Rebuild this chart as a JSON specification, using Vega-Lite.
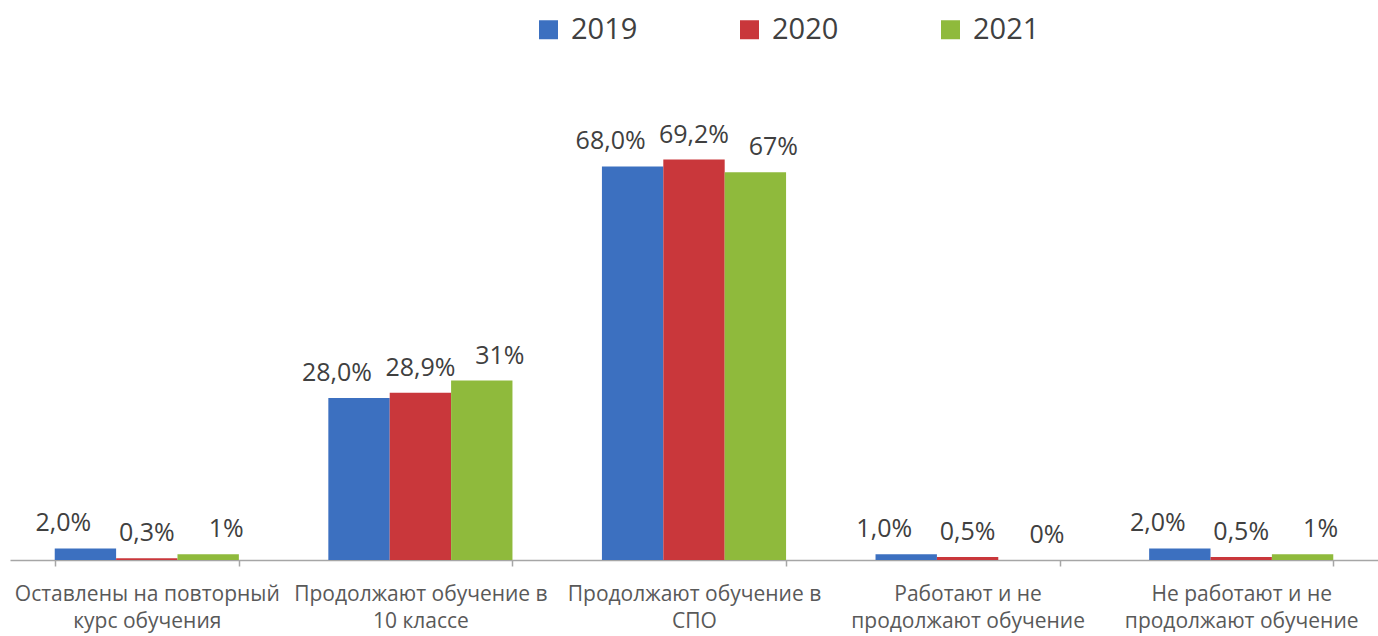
{
  "$schema": "https://vega.github.io/schema/vega-lite/v6.json",
  "autosize": {"type": "none"},
  "padding": {"left": 10, "top": 97, "right": 0, "bottom": 76},
  "width": 1368,
  "height": 463,
  "background": "white",
  "config": {
    "view": {"stroke": null},
    "font": "Open Sans"
  },
  "data": {
    "values": [
      {"cat": "Оставлены на повторный|курс обучения", "year": "2019", "value": 2.0, "label": "2,0%"},
      {"cat": "Оставлены на повторный|курс обучения", "year": "2020", "value": 0.3, "label": "0,3%"},
      {"cat": "Оставлены на повторный|курс обучения", "year": "2021", "value": 1.0, "label": "1%"},
      {"cat": "Продолжают обучение в|10 классе", "year": "2019", "value": 28.0, "label": "28,0%"},
      {"cat": "Продолжают обучение в|10 классе", "year": "2020", "value": 28.9, "label": "28,9%"},
      {"cat": "Продолжают обучение в|10 классе", "year": "2021", "value": 31.0, "label": "31%"},
      {"cat": "Продолжают обучение в|СПО", "year": "2019", "value": 68.0, "label": "68,0%"},
      {"cat": "Продолжают обучение в|СПО", "year": "2020", "value": 69.2, "label": "69,2%"},
      {"cat": "Продолжают обучение в|СПО", "year": "2021", "value": 67.0, "label": "67%"},
      {"cat": "Работают и не|продолжают обучение", "year": "2019", "value": 1.0, "label": "1,0%"},
      {"cat": "Работают и не|продолжают обучение", "year": "2020", "value": 0.5, "label": "0,5%"},
      {"cat": "Работают и не|продолжают обучение", "year": "2021", "value": 0.0, "label": "0%"},
      {"cat": "Не работают и не|продолжают обучение", "year": "2019", "value": 2.0, "label": "2,0%"},
      {"cat": "Не работают и не|продолжают обучение", "year": "2020", "value": 0.5, "label": "0,5%"},
      {"cat": "Не работают и не|продолжают обучение", "year": "2021", "value": 1.0, "label": "1%"}
    ]
  },
  "encoding": {
    "x": {
      "field": "cat", "type": "nominal", "sort": null,
      "scale": {"paddingInner": 0.327, "paddingOuter": 0.1635},
      "axis": {
        "title": null,
        "labelAngle": 0,
        "labelExpr": "datum.value ? split(datum.value, '|') : ''",
        "labelFont": "Open Sans",
        "labelFontSize": 21,
        "labelLineHeight": 27,
        "labelColor": "#595959",
        "labelPadding": 17,
        "labelLimit": 400,
        "domainColor": "#a6a6a6",
        "domainWidth": 1.5,
        "tickColor": "#a6a6a6",
        "tickBand": "extent",
        "tickSize": 6,
        "tickWidth": 1.5,
        "grid": false
      }
    },
    "xOffset": {"field": "year", "type": "nominal", "scale": {"paddingInner": 0, "paddingOuter": 0}},
    "y": {"field": "value", "type": "quantitative", "scale": {"domain": [0, 80]}, "axis": null}
  },
  "layer": [
    {
      "mark": {"type": "bar"},
      "encoding": {
        "color": {
          "field": "year", "type": "nominal",
          "scale": {"domain": ["2019", "2020", "2021"], "range": ["#3c70c0", "#c9373b", "#8fba3c"]},
          "legend": {
            "title": null,
            "orient": "none",
            "direction": "horizontal",
            "legendX": 524,
            "legendY": -82,
            "symbolType": "square",
            "symbolSize": 361,
            "symbolStrokeWidth": 0,
            "labelFont": "Open Sans",
            "labelFontSize": 29,
            "labelColor": "#404040",
            "labelOffset": 8,
            "columnPadding": 97,
            "padding": 0
          }
        }
      }
    },
    {
      "transform": [{"filter": "datum.year === '2019'"}],
      "mark": {"type": "text", "dx": -22, "dy": -25, "baseline": "middle", "fontSize": 25, "color": "#404040", "font": "Open Sans"},
      "encoding": {"text": {"field": "label"}}
    },
    {
      "transform": [{"filter": "datum.year === '2020'"}],
      "mark": {"type": "text", "dx": 0, "dy": -25, "baseline": "middle", "fontSize": 25, "color": "#404040", "font": "Open Sans"},
      "encoding": {"text": {"field": "label"}}
    },
    {
      "transform": [{"filter": "datum.year === '2021'"}],
      "mark": {"type": "text", "dx": 18, "dy": -25, "baseline": "middle", "fontSize": 25, "color": "#404040", "font": "Open Sans"},
      "encoding": {"text": {"field": "label"}}
    }
  ]
}
